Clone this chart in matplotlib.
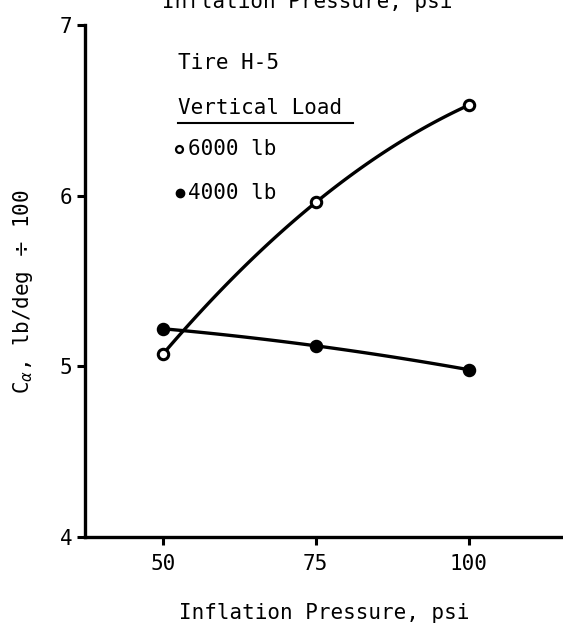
import numpy as np
import matplotlib
matplotlib.use("Agg")
import matplotlib.pyplot as plt

# inflation pressure, psi
pressure = [50, 75, 100]
# cornering stiffness C_alpha, lb/deg / 100
load_6000 = [5.07, 5.96, 6.53]
load_4000 = [5.22, 5.12, 4.98]

x_ticks = [50, 75, 100]
y_ticks = [4, 5, 6, 7]

plt.rcParams['font.family'] = ['DejaVu Sans Mono']
plt.rcParams['font.size'] = 15

fig = plt.figure(figsize=(5.63, 6.26), dpi=100)
ax = fig.add_axes([0.151, 0.1422, 0.849, 0.818])


def fig_xy(px, py):
    # pixel position from the top-left corner -> figure fraction
    return px / 563, 1 - py / 626


# smooth curves through the measured points
xs = np.linspace(pressure[0], pressure[-1], 100)
for vals, face in [(load_6000, 'white'), (load_4000, 'black')]:
    coef = np.polyfit(pressure, vals, 2)
    ax.plot(xs, np.polyval(coef, xs), color='black', lw=2.4, solid_capstyle='round')
    ax.plot(pressure, vals, 'o', ms=7.5, mfc=face, mec='black', mew=2.2, zorder=3)

ax.set_xlim(37.3, 115.4)
ax.set_ylim(4, 6.98)
ax.set_xticks(x_ticks)
ax.set_yticks(y_ticks)
ax.spines['top'].set_visible(False)
ax.spines['right'].set_visible(False)
for s in ['left', 'bottom']:
    ax.spines[s].set_linewidth(2.4)
ax.tick_params(axis='both', width=2.2, length=6, labelsize=15)
ax.tick_params(axis='x', pad=6)
ax.tick_params(axis='y', pad=3)

ax.set_xlabel("Inflation Pressure, psi", fontsize=15, labelpad=21)
ax.set_ylabel(r"C$_\alpha$, lb/deg $\div$ 100", fontsize=15)
ax.yaxis.set_label_coords(-0.105, 0.479)

# label of the upper scale, running off the top edge
fig.text(307 / 563, 1 - 2 / 626, "Inflation Pressure, psi", ha='center', va='center', fontsize=15)

# key
fig.text(*fig_xy(178, 63), "Tire H-5", va='center', fontsize=15)
fig.text(*fig_xy(178, 108), "Vertical Load", va='center', fontsize=15)
fig.add_artist(plt.Line2D([178 / 563, 353 / 563], [1 - 123 / 626] * 2, color='black', lw=1.5))
fig.add_artist(plt.Line2D([179 / 563], [1 - 149 / 626], marker='o', ms=5, mfc='white', mec='black', mew=1.6))
fig.add_artist(plt.Line2D([180 / 563], [1 - 193 / 626], marker='o', ms=6, mfc='black', mec='black'))
fig.text(*fig_xy(188, 149), "6000 lb", va='center', fontsize=15)
fig.text(*fig_xy(188, 193), "4000 lb", va='center', fontsize=15)

fig.savefig("out.png", dpi=100)
